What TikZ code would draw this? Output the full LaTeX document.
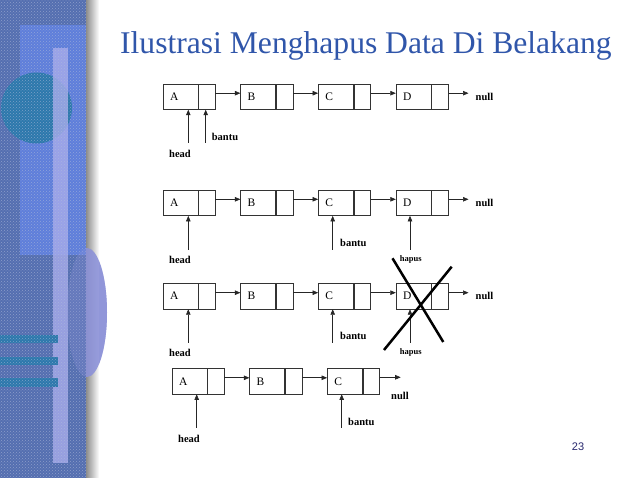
\documentclass[tikz,border=0pt]{standalone}
\usepackage{fontspec}
\setmainfont{Liberation Serif}
\newfontfamily\numfont{Liberation Sans}
\usetikzlibrary{positioning,arrows.meta,patterns}

\definecolor{titleblue}{RGB}{48,86,170}
\definecolor{stripblue}{RGB}{84,110,176}
\definecolor{blockblue}{RGB}{94,126,218}
\definecolor{lavender}{RGB}{168,172,236}
\definecolor{circteal}{RGB}{44,120,172}
\definecolor{ovalblue}{RGB}{140,146,216}
\definecolor{pagenum}{RGB}{40,40,110}

\begin{document}
\begin{tikzpicture}[x=1pt,y=-1pt,
    data/.style={draw=black!80, line width=0.6pt, anchor=west, minimum height=25.5pt,
      text width=21pt, inner xsep=7pt, inner ysep=0pt, font=\fontsize{11.5}{13}\selectfont},
    nxt/.style={draw=black!80, line width=0.6pt, minimum height=25.5pt,
      minimum width=16.5pt, inner sep=0pt},
    link/.style={line width=0.6pt, black!85, -{Triangle[length=5.5pt,width=4.5pt]}},
    lbl/.style={font=\fontsize{10.5}{12}\selectfont\bfseries, inner sep=0pt},
    small/.style={font=\fontsize{8.5}{10}\selectfont\bfseries, inner sep=0pt},
    cross/.style={line width=2.5pt, black}]
  \useasboundingbox (0,0) rectangle (638,478);
  \fill[white] (0,0) rectangle (638,478);

  % left strip of the slide
  \fill[ovalblue, opacity=0.35] (87,312.5) ellipse[x radius=20pt, y radius=64.5pt];
  \fill[stripblue] (0,0) rectangle (86,478);
  \fill[blockblue] (20,25) rectangle (86,255);
  \fill[circteal] (36.5,108) circle[radius=35.5pt];
  \fill[lavender, opacity=0.8] (53,48) rectangle (68,463);
  \fill[circteal] (0,335) rectangle (58,343);
  \fill[circteal] (0,357) rectangle (58,365);
  \fill[circteal] (0,378) rectangle (58,387);
  \fill[pattern=crosshatch dots, pattern color=white!55!stripblue, opacity=0.6] (0,0) rectangle (86,478);
  \fill[ovalblue, opacity=0.3] (87,312.5) ellipse[x radius=20pt, y radius=64.5pt];
  \shade[left color=black!45, right color=white] (86,0) rectangle (99,478);
  \begin{scope}
    \clip (86,0) rectangle (120,478);
    \fill[ovalblue, opacity=0.9] (87,312.5) ellipse[x radius=20pt, y radius=64.5pt];
  \end{scope}

  \node[anchor=base, text=titleblue, font=\fontsize{31.6}{36}\selectfont] (title)
    at (365.9,53.3) {Ilustrasi Menghapus Data Di Belakang};

  % row 1
  \node[data] (A1) at (162.7,96.7) {A}; \node[nxt, right=0pt of A1] (A1p) {};
  \node[data, right=25pt of A1p] (B1) {B}; \node[nxt, right=0pt of B1] (B1p) {};
  \node[data, right=25pt of B1p] (C1) {C}; \node[nxt, right=0pt of C1] (C1p) {};
  \node[data, right=25pt of C1p] (D1) {D}; \node[nxt, right=0pt of D1] (D1p) {};
  \node[lbl, anchor=west] (null1) at (475.5,96.7) {null};
  \draw[link] ([yshift=3.5pt]A1p.east) -- ([yshift=3.5pt]B1.west);
  \draw[link] ([yshift=3.5pt]B1p.east) -- ([yshift=3.5pt]C1.west);
  \draw[link] ([yshift=3.5pt]C1p.east) -- ([yshift=3.5pt]D1.west);
  \draw[link, shorten >=7pt] ([yshift=3.5pt]D1p.east) -- ([yshift=3.5pt]null1.west);
  \coordinate (h1) at (188.3,143); \coordinate (b1) at (205.7,143);
  \draw[link] (h1) -- (h1 |- A1.south);
  \draw[link] (b1) -- (b1 |- A1p.south);
  \node[lbl] (head1) at (180,154) {head};
  \node[lbl, anchor=west] (bantu1) at (211.7,137) {bantu};

  % row 2
  \node[data] (A2) at (162.7,202.8) {A}; \node[nxt, right=0pt of A2] (A2p) {};
  \node[data, right=25pt of A2p] (B2) {B}; \node[nxt, right=0pt of B2] (B2p) {};
  \node[data, right=25pt of B2p] (C2) {C}; \node[nxt, right=0pt of C2] (C2p) {};
  \node[data, right=25pt of C2p] (D2) {D}; \node[nxt, right=0pt of D2] (D2p) {};
  \node[lbl, anchor=west] (null2) at (475.5,202.8) {null};
  \draw[link] ([yshift=3.5pt]A2p.east) -- ([yshift=3.5pt]B2.west);
  \draw[link] ([yshift=3.5pt]B2p.east) -- ([yshift=3.5pt]C2.west);
  \draw[link] ([yshift=3.5pt]C2p.east) -- ([yshift=3.5pt]D2.west);
  \draw[link, shorten >=7pt] ([yshift=3.5pt]D2p.east) -- ([yshift=3.5pt]null2.west);
  \coordinate (h2) at (188.3,250); \coordinate (b2) at (332.7,250); \coordinate (p2) at (410,250);
  \draw[link] (h2) -- (h2 |- A2.south);
  \draw[link] (b2) -- (b2 |- C2.south);
  \draw[link] (p2) -- (p2 |- D2.south);
  \node[lbl] (head2) at (180,260) {head};
  \node[lbl, anchor=west] (bantu2) at (340,242.7) {bantu};
  \node[small] (hapus2) at (410.7,259.3) {hapus};

  % row 3
  \node[data] (A3) at (162.7,296.2) {A}; \node[nxt, right=0pt of A3] (A3p) {};
  \node[data, right=25pt of A3p] (B3) {B}; \node[nxt, right=0pt of B3] (B3p) {};
  \node[data, right=25pt of B3p] (C3) {C}; \node[nxt, right=0pt of C3] (C3p) {};
  \node[data, right=25pt of C3p] (D3) {D}; \node[nxt, right=0pt of D3] (D3p) {};
  \node[lbl, anchor=west] (null3) at (475.5,296.2) {null};
  \draw[link] ([yshift=3.5pt]A3p.east) -- ([yshift=3.5pt]B3.west);
  \draw[link] ([yshift=3.5pt]B3p.east) -- ([yshift=3.5pt]C3.west);
  \draw[link] ([yshift=3.5pt]C3p.east) -- ([yshift=3.5pt]D3.west);
  \draw[link, shorten >=7pt] ([yshift=3.5pt]D3p.east) -- ([yshift=3.5pt]null3.west);
  \coordinate (h3) at (188.3,343); \coordinate (b3) at (332.7,343); \coordinate (p3) at (410,343);
  \draw[link] (h3) -- (h3 |- A3.south);
  \draw[link] (b3) -- (b3 |- C3.south);
  \draw[link] (p3) -- (p3 |- D3.south);
  \node[lbl] (head3) at (180,353.3) {head};
  \node[lbl, anchor=west] (bantu3) at (340,336) {bantu};
  \node[small] (hapus3) at (410.7,352.7) {hapus};
  \draw[cross] (392.5,258.3) -- (443.3,342);
  \draw[cross] (451.7,266.7) -- (384,350);

  % row 4
  \node[data] (A4) at (171.7,381.3) {A}; \node[nxt, right=0pt of A4] (A4p) {};
  \node[data, right=25pt of A4p] (B4) {B}; \node[nxt, right=0pt of B4] (B4p) {};
  \node[data, right=25pt of B4p] (C4) {C}; \node[nxt, right=0pt of C4] (C4p) {};
  \coordinate (n4) at (400.7,377.3);
  \draw[link] ([yshift=3.5pt]A4p.east) -- ([yshift=3.5pt]B4.west);
  \draw[link] ([yshift=3.5pt]B4p.east) -- ([yshift=3.5pt]C4.west);
  \draw[link] ([yshift=4pt]C4p.east) -- (n4);
  \node[lbl] (null4) at (400,395.7) {null};
  \coordinate (h4) at (196.7,428); \coordinate (b4) at (341.7,428);
  \draw[link] (h4) -- (h4 |- A4.south);
  \draw[link] (b4) -- (b4 |- C4.south);
  \node[lbl] (head4) at (189,439) {head};
  \node[lbl, anchor=west] (bantu4) at (348,422.3) {bantu};

  \node[text=pagenum, font=\numfont\fontsize{11}{13}\selectfont] (page) at (578,446.7) {23};
\end{tikzpicture}
\end{document}
